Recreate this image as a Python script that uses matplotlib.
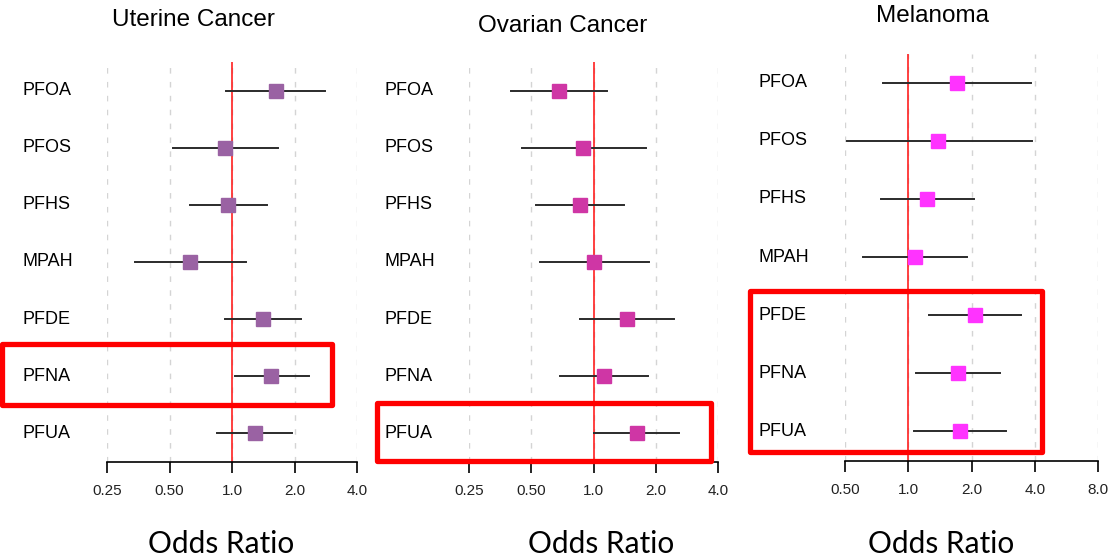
import matplotlib
matplotlib.use("Agg")
import matplotlib.pyplot as plt
from matplotlib.patches import Rectangle
from matplotlib.ticker import FixedLocator, FixedFormatter, NullLocator

# chemicals, top to bottom
chemicals = ["PFOA", "PFOS", "PFHS", "MPAH", "PFDE", "PFNA", "PFUA"]

# odds ratios with lower / upper confidence limits
uterine_or = [1.63, 0.93, 0.96, 0.63, 1.41, 1.54, 1.29]
uterine_lo = [0.94, 0.52, 0.63, 0.34, 0.93, 1.03, 0.85]
uterine_hi = [2.80, 1.67, 1.48, 1.17, 2.16, 2.34, 1.95]

ovarian_or = [0.68, 0.89, 0.86, 1.01, 1.45, 1.13, 1.62]
ovarian_lo = [0.40, 0.45, 0.53, 0.55, 0.86, 0.69, 1.00]
ovarian_hi = [1.16, 1.79, 1.40, 1.86, 2.44, 1.84, 2.59]

melanoma_or = [1.70, 1.39, 1.23, 1.08, 2.08, 1.72, 1.77]
melanoma_lo = [0.76, 0.51, 0.74, 0.61, 1.25, 1.09, 1.07]
melanoma_hi = [3.84, 3.88, 2.06, 1.91, 3.45, 2.74, 2.91]

ticks_small = [0.25, 0.5, 1.0, 2.0, 4.0]
ticklabels_small = ["0.25", "0.50", "1.0", "2.0", "4.0"]
ticks_mel = [0.5, 1.0, 2.0, 4.0, 8.0]
ticklabels_mel = ["0.50", "1.0", "2.0", "4.0", "8.0"]

W, H = 1110, 560
SANS = ["Liberation Sans", "DejaVu Sans"]


def px_rect(left, top, right, bottom):
    """pixel box (from top-left) -> figure fraction rect"""
    return [left / W, (H - bottom) / H, (right - left) / W, (bottom - top) / H]


def forest(ax, ors, los, his, color, ticks, labels, highlight):
    n = len(chemicals)
    ys = [n - i for i in range(n)]

    ax.set_xscale("log", base=2)
    ax.set_xlim(ticks[0], ticks[-1])
    ax.set_ylim(0.5, n + 0.5)

    for t in ticks:
        ax.axvline(t, color="#d4d4d4", lw=1.0, ls=(0, (4, 6)), zorder=0)
    ax.axvline(1.0, color="#ff2020", lw=1.2, zorder=1)

    for y, o, lo, hi in zip(ys, ors, los, his):
        ax.plot([lo, hi], [y, y], color="#2b2b2b", lw=1.4, zorder=2)
        ax.plot([o], [y], marker="s", ms=9.5, color=color, mec=color, zorder=3)

    for y, name in zip(ys, chemicals):
        ax.text(-0.34, y, name, transform=ax.get_yaxis_transform(),
                ha="left", va="center", fontsize=13, family=SANS)

    ax.xaxis.set_major_locator(FixedLocator(ticks))
    ax.xaxis.set_major_formatter(FixedFormatter(labels))
    ax.xaxis.set_minor_locator(NullLocator())
    ax.set_yticks([])
    for s in ["left", "top", "right"]:
        ax.spines[s].set_visible(False)
    ax.spines["bottom"].set_linewidth(1.2)
    ax.tick_params(axis="x", direction="out", length=8, width=1.2, pad=8,
                   labelsize=11)
    for lab in ax.get_xticklabels():
        lab.set_family(SANS)
        lab.set_color("#222222")

    # red highlight box: (x0, x1, y0, y1) in data units
    x0, x1, y0, y1 = highlight
    ax.add_patch(Rectangle((x0, y0), x1 - x0, y1 - y0, fill=False,
                           edgecolor="#ff0000", lw=3.8, joinstyle="round",
                           clip_on=False, zorder=10))


fig = plt.figure(figsize=(W / 100, H / 100), dpi=100)

ax1 = fig.add_axes(px_rect(107, 62, 357, 462))
forest(ax1, uterine_or, uterine_lo, uterine_hi, "#9a62a3",
       ticks_small, ticklabels_small, (0.078, 3.04, 1.49, 2.57))

ax2 = fig.add_axes(px_rect(469, 62, 718, 462))
forest(ax2, ovarian_or, ovarian_lo, ovarian_hi, "#cf36a5",
       ticks_small, ticklabels_small, (0.09, 3.72, 0.52, 1.54))

ax3 = fig.add_axes(px_rect(845, 53.5, 1098, 460.5))
forest(ax3, melanoma_or, melanoma_lo, melanoma_hi, "#ff33ff",
       ticks_mel, ticklabels_mel, (0.177, 4.33, 0.64, 3.41))

titles = [("Uterine Cancer", 193, 20), ("Ovarian Cancer", 563, 26),
          ("Melanoma", 933, 16)]
for txt, x, y in titles:
    fig.text(x / W, 1 - y / H, txt, ha="center", va="center",
             fontsize=17.5, family=SANS)

for x in [221, 601, 941]:
    fig.text(x / W, 1 - 544 / H, "Odds Ratio", ha="center", va="center",
             fontsize=21.5, family=["Lato", "DejaVu Sans"])

fig.savefig("out.png", dpi=100)
